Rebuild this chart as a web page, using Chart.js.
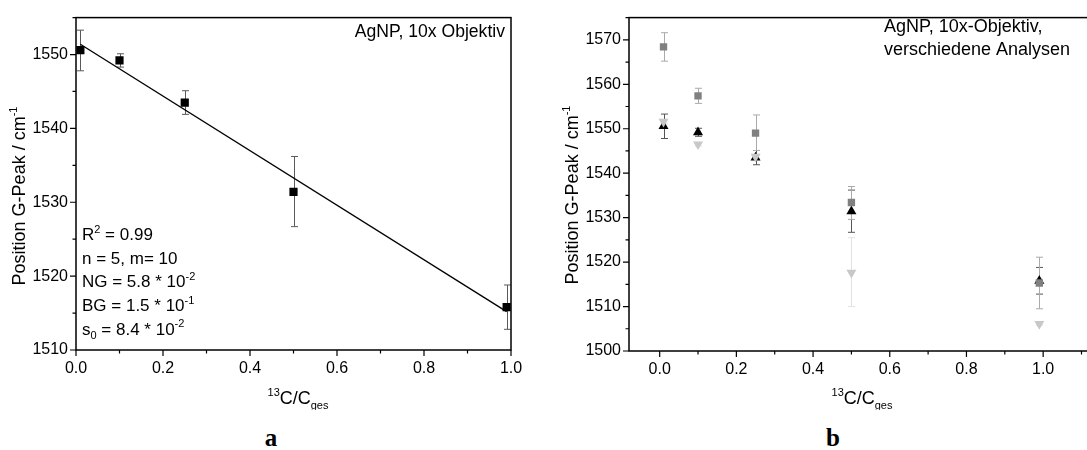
<!DOCTYPE html>
<html>
<head>
<meta charset="utf-8">
<script src="https://cdn.jsdelivr.net/npm/chart.js@4/dist/chart.umd.min.js"></script>
<style>
  body { margin: 0; background: #fff; width: 1087px; height: 450px; overflow: hidden; position: relative; }
  #wa { position: absolute; left: 0; top: 0; width: 540px; height: 410px; }
  #wb { position: absolute; left: 540px; top: 0; width: 547px; height: 410px; overflow: hidden; }
  .lab { position: absolute; top: 424px; width: 40px; text-align: center; font: bold 25px "Liberation Serif", "DejaVu Serif", serif; color: #000; }
</style>
</head>
<body>
<div id="wa"><canvas id="chartA" width="540" height="410"></canvas></div>
<div id="wb"><canvas id="chartB" width="600" height="410"></canvas></div>
<div class="lab" style="left:251px">a</div>
<div class="lab" style="left:813px">b</div>
<script>
// --- Daten ---
const xVals = [0.01, 0.1, 0.25, 0.5, 0.99];

// Diagramm a: Mittelwerte und Fehlergrenzen
const yA  = [1550.6, 1549.2, 1543.5, 1531.4, 1515.8];
const loA = [1547.8, 1548.3, 1541.9, 1526.7, 1512.8];
const hiA = [1553.3, 1550.1, 1545.1, 1536.2, 1518.8];
const fitX = [0.01, 0.99];
const fitY = [1551.4, 1515.2];

// Diagramm b: drei Auswertungen
const ySq  = [1568.4, 1557.4, 1549.0, 1533.4, 1515.3];
const loSq = [1565.2, 1555.7, 1545.1, 1529.6, 1509.5];
const hiSq = [1571.6, 1559.1, 1553.1, 1537.0, 1521.1];
const yUp  = yA, loUp = loA, hiUp = hiA;
const yDn  = [1551.6, 1546.5, 1543.7, 1517.6, 1506.1];
const loDn = [1551.1, 1546.1, 1543.3, 1510.0, 1505.8];
const hiDn = [1552.1, 1546.9, 1544.1, 1525.5, 1506.4];

const FONT = '"Liberation Sans", Arial, sans-serif';
const pts = ys => xVals.map((x, i) => ({ x, y: ys[i] }));

// Text mit Hoch-/Tiefstellung: parts = [[text, 'n'|'sup'|'sub'], ...]
function drawRich(ctx, parts, x, y, size, align) {
  const fontFor = m => (m === 'n' ? size : Math.round(size * 0.62)) + 'px ' + FONT;
  let w = 0;
  parts.forEach(([t, m]) => { ctx.font = fontFor(m); w += ctx.measureText(t).width; });
  let cx = align === 'center' ? x - w / 2 : align === 'right' ? x - w : x;
  ctx.textAlign = 'left';
  ctx.textBaseline = 'alphabetic';
  parts.forEach(([t, m]) => {
    ctx.font = fontFor(m);
    const dy = m === 'sup' ? -size * 0.42 : m === 'sub' ? size * 0.25 : 0;
    ctx.fillText(t, cx, y + dy);
    cx += ctx.measureText(t).width;
  });
}

function makeFrame(cfg) {
  return {
    id: 'frame',
    beforeDatasetsDraw(chart) {
      const { ctx, scales: { x, y } } = chart;
      ctx.save();
      cfg.errors.forEach(e => {
        ctx.strokeStyle = e.color;
        ctx.lineWidth = 1;
        xVals.forEach((xv, i) => {
          const px = Math.round(x.getPixelForValue(xv)) + 0.5;
          const p1 = y.getPixelForValue(e.lo[i]);
          const p2 = y.getPixelForValue(e.hi[i]);
          ctx.beginPath();
          ctx.moveTo(px, p1); ctx.lineTo(px, p2);
          ctx.moveTo(px - 3.5, p1); ctx.lineTo(px + 3.5, p1);
          ctx.moveTo(px - 3.5, p2); ctx.lineTo(px + 3.5, p2);
          ctx.stroke();
        });
      });
      ctx.restore();
    },
    afterDraw(chart) {
      const { ctx, chartArea: a, scales: { x, y } } = chart;
      ctx.save();
      ctx.strokeStyle = '#000';
      ctx.lineWidth = 1.5;
      ctx.strokeRect(a.left, a.top, a.right - a.left, a.bottom - a.top);
      ctx.lineWidth = 1.2;
      ctx.beginPath();
      x.ticks.forEach(t => {
        const px = x.getPixelForValue(t.value);
        const len = Math.round(t.value * 10) % 2 === 0 ? 6 : 3.5;
        ctx.moveTo(px, a.bottom); ctx.lineTo(px, a.bottom + len);
      });
      y.ticks.forEach(t => {
        const py = y.getPixelForValue(t.value);
        const len = t.value % 10 === 0 ? 6 : 3.5;
        ctx.moveTo(a.left, py); ctx.lineTo(a.left - len, py);
      });
      ctx.stroke();

      ctx.fillStyle = '#000';
      // Achsentitel
      drawRich(ctx, [['13', 'sup'], ['C/C', 'n'], ['ges', 'sub']], cfg.xTitleX, 404, 18, 'center');
      ctx.save();
      ctx.translate(cfg.yTitleX, cfg.yTitleY);
      ctx.rotate(-Math.PI / 2);
      drawRich(ctx, [['Position G-Peak / cm', 'n'], ['-1', 'sup']], 0, 0, 18, 'center');
      ctx.restore();
      cfg.texts.forEach(t => drawRich(ctx, t.parts, t.x, t.y, t.size, t.align));
      ctx.restore();
    }
  };
}

function scalesFor(xMin, xMax, yMin, yMax, yW, xH) {
  return {
    x: {
      type: 'linear', min: xMin, max: xMax,
      afterFit: s => { s.height = xH; },
      border: { display: false },
      grid: { display: false, drawTicks: false },
      ticks: {
        stepSize: 0.1, includeBounds: false, autoSkip: false, maxRotation: 0, padding: 9,
        color: '#000', font: { family: FONT, size: 16 },
        callback: v => Math.round(v * 10) % 2 === 0 ? v.toFixed(1) : ''
      }
    },
    y: {
      type: 'linear', min: yMin, max: yMax,
      afterFit: s => { s.width = yW; },
      border: { display: false },
      grid: { display: false, drawTicks: false },
      ticks: {
        stepSize: 5, autoSkip: false, padding: 8,
        color: '#000', font: { family: FONT, size: 16 },
        callback: v => v % 10 === 0 ? v : ''
      }
    }
  };
}

const common = {
  responsive: false,
  animation: false,
  events: [],
  plugins: { legend: { display: false }, tooltip: { enabled: false } }
};

// --- Diagramm a ---
new Chart(document.getElementById('chartA'), {
  type: 'scatter',
  data: {
    datasets: [
      { data: pts(yA), pointStyle: 'rect', pointRadius: 5.8, backgroundColor: '#000', borderColor: '#000', borderWidth: 0 },
      { type: 'line', data: fitX.map((x, i) => ({ x, y: fitY[i] })), borderColor: '#000', borderWidth: 1.3, pointRadius: 0, fill: false }
    ]
  },
  options: {
    ...common,
    layout: { padding: { left: 0, top: 17, right: 29, bottom: 0 } },
    scales: scalesFor(0, 1, 1510, 1555, 76, 60)
  },
  plugins: [makeFrame({
    errors: [{ lo: loA, hi: hiA, color: '#5a5a5a' }],
    xTitleX: 298, yTitleX: 25, yTitleY: 196,
    texts: [
      { parts: [['AgNP, 10x Objektiv', 'n']], x: 505, y: 37, size: 17.6, align: 'right' },
      { parts: [['R', 'n'], ['2', 'sup'], [' = 0.99', 'n']], x: 82, y: 240, size: 17 },
      { parts: [['n = 5, m= 10', 'n']], x: 82, y: 263.5, size: 17 },
      { parts: [['NG = 5.8 * 10', 'n'], ['-2', 'sup']], x: 82, y: 287, size: 17 },
      { parts: [['BG = 1.5 * 10', 'n'], ['-1', 'sup']], x: 82, y: 311, size: 17 },
      { parts: [['s', 'n'], ['0', 'sub'], [' = 8.4 * 10', 'n'], ['-2', 'sup']], x: 82, y: 334.5, size: 17 }
    ]
  })]
});

// --- Diagramm b ---
new Chart(document.getElementById('chartB'), {
  type: 'scatter',
  data: {
    datasets: [
      { data: pts(ySq), pointStyle: 'rect', pointRadius: 5.2, backgroundColor: '#808080', borderWidth: 0 },
      { data: pts(yDn), pointStyle: 'triangle', rotation: 180, pointRadius: 5.8, backgroundColor: '#c8c8c8', borderWidth: 0 },
      { data: pts(yUp), pointStyle: 'triangle', pointRadius: 5.8, backgroundColor: '#000', borderWidth: 0 }
    ]
  },
  options: {
    ...common,
    layout: { padding: { left: 0, top: 11, right: 47, bottom: 0 } },
    scales: scalesFor(-0.08, 1.13, 1500, 1575, 89, 59)
  },
  plugins: [makeFrame({
    errors: [
      { lo: loDn, hi: hiDn, color: '#e2e2e2' },
      { lo: loUp, hi: hiUp, color: '#555' },
      { lo: loSq, hi: hiSq, color: '#aaa' }
    ],
    xTitleX: 322, yTitleX: 38, yTitleY: 195,
    texts: [
      { parts: [['AgNP, 10x-Objektiv,', 'n']], x: 344, y: 32, size: 18, align: 'left' },
      { parts: [['verschiedene Analysen', 'n']], x: 344, y: 55, size: 18, align: 'left' }
    ]
  })]
});
</script>
</body>
</html>
